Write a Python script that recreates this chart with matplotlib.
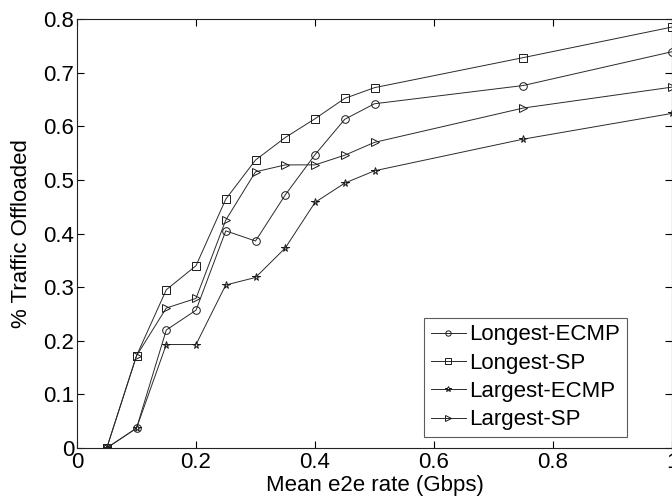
import matplotlib
matplotlib.use("Agg")
import matplotlib.pyplot as plt

rate = [0.05, 0.1, 0.15, 0.2, 0.25, 0.3, 0.35, 0.4, 0.45, 0.5, 0.75, 1.0]

longest_ecmp = [0.0, 0.037, 0.220, 0.257, 0.405, 0.386, 0.472, 0.547, 0.613, 0.642, 0.676, 0.739]
longest_sp = [0.0, 0.172, 0.295, 0.340, 0.464, 0.537, 0.579, 0.614, 0.652, 0.672, 0.728, 0.785]
largest_ecmp = [0.0, 0.037, 0.193, 0.193, 0.304, 0.318, 0.373, 0.458, 0.494, 0.517, 0.576, 0.624]
largest_sp = [0.0, 0.172, 0.261, 0.279, 0.425, 0.515, 0.528, 0.528, 0.546, 0.570, 0.634, 0.673]

xticks = [0, 0.2, 0.4, 0.6, 0.8, 1.0]
xtick_labels = ["0", "0.2", "0.4", "0.6", "0.8", "1"]
yticks = [0, 0.1, 0.2, 0.3, 0.4, 0.5, 0.6, 0.7, 0.8]
ytick_labels = ["0", "0.1", "0.2", "0.3", "0.4", "0.5", "0.6", "0.7", "0.8"]

plt.rcParams["font.family"] = ["Liberation Sans", "DejaVu Sans"]

fig = plt.figure(figsize=(6.72, 5.03), dpi=100)
# axes box: x 77..672 px, y 19..448 px
ax = fig.add_axes([0.1146, 0.1093, 0.8854, 0.8529])

series = [
    ("Longest-ECMP", longest_ecmp, "o"),
    ("Longest-SP", longest_sp, "s"),
    ("Largest-ECMP", largest_ecmp, "*"),
    ("Largest-SP", largest_sp, ">"),
]
for name, vals, mk in series:
    ax.plot(rate, vals, color="#2a2a2a", linewidth=0.7, marker=mk,
            markersize=5.5, markerfacecolor="none", markeredgecolor="#1a1a1a",
            markeredgewidth=0.7, label=name)

ax.set_xlim(0, 1)
ax.set_ylim(0, 0.8)
ax.set_xticks(xticks)
ax.set_xticklabels(xtick_labels)
ax.set_yticks(yticks)
ax.set_yticklabels(ytick_labels)
ax.tick_params(direction="in", top=True, right=True, length=5, width=0.8,
               labelsize=16)
ax.tick_params(axis="x", pad=3)
ax.tick_params(axis="y", pad=2)
for sp in ax.spines.values():
    sp.set_linewidth(0.8)
    sp.set_color("#222222")

ax.set_xlabel("Mean e2e rate (Gbps)", fontsize=16, labelpad=1)
ax.set_ylabel("% Traffic Offloaded", fontsize=16, labelpad=8)

leg = ax.legend(loc="lower right", bbox_to_anchor=(0.9244, 0.0256),
                fontsize=16, frameon=True, fancybox=False,
                edgecolor="#333333", handlelength=1.6, handletextpad=0.15,
                borderpad=0.3, labelspacing=0.33, borderaxespad=0,
                markerscale=0.7)
leg.get_frame().set_linewidth(0.8)

fig.savefig("out.png", dpi=100)
